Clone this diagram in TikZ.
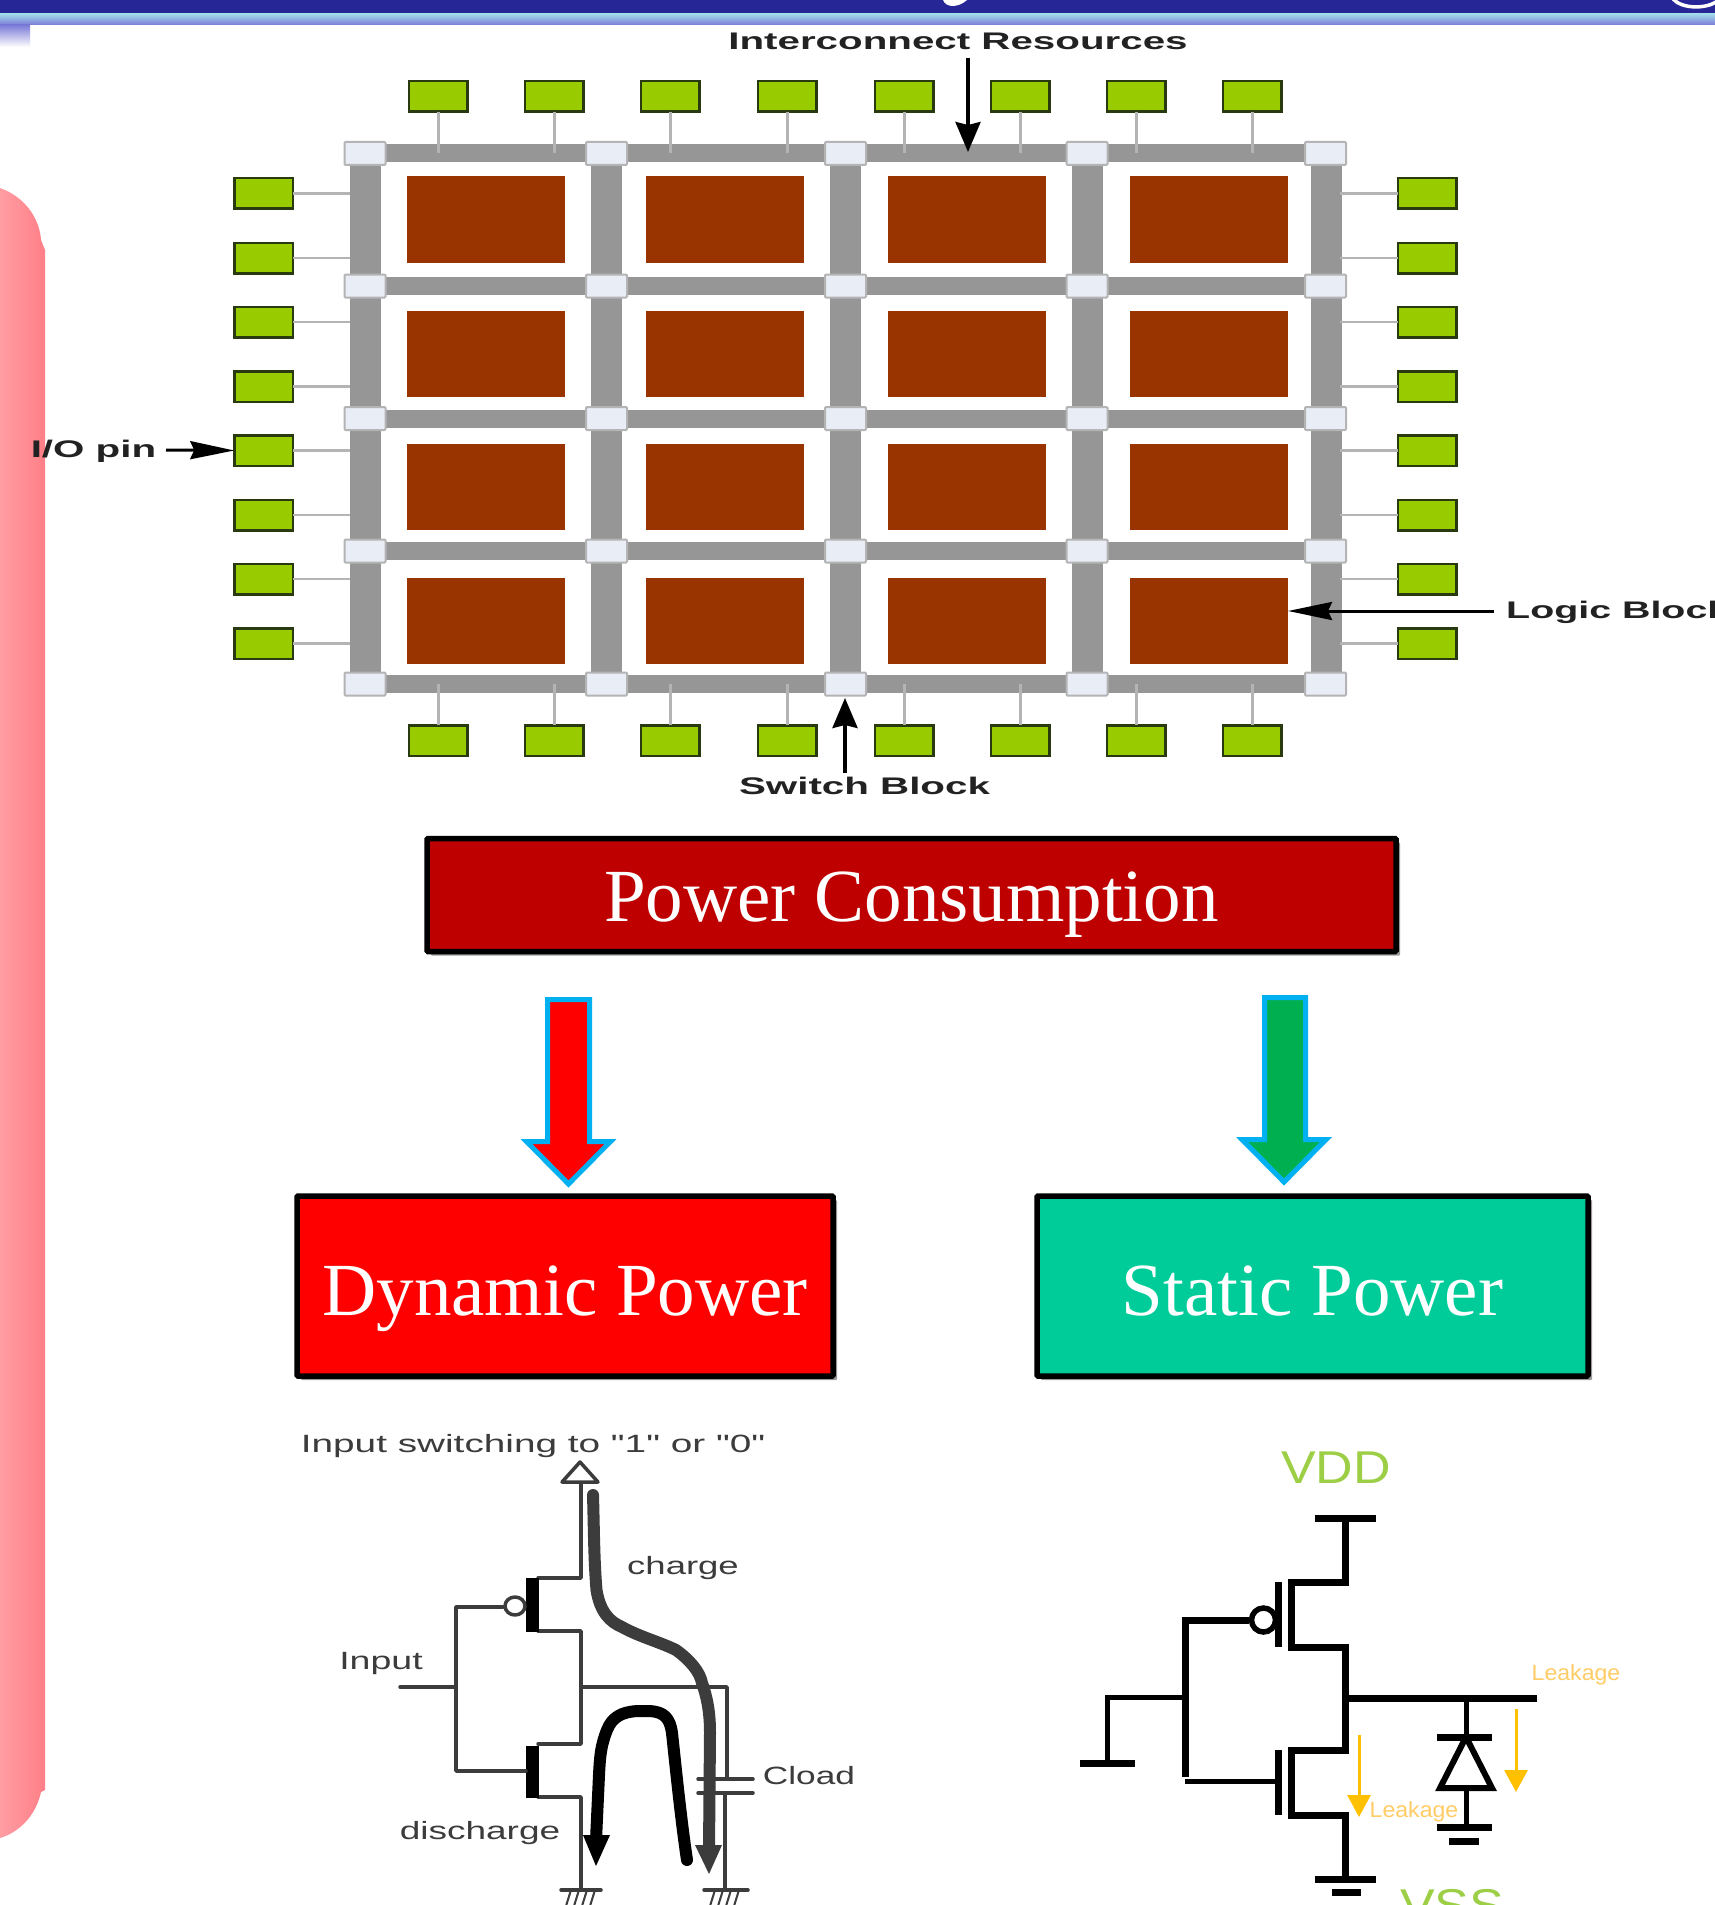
\documentclass[tikz,border=0pt]{standalone}
\usepackage{fontspec}
\usepackage{graphicx}
\setmainfont{Liberation Serif}
\newfontfamily\labfont{Liberation Sans}
\usetikzlibrary{shadows,arrows.meta}
\definecolor{navyband}{HTML}{262696}
\definecolor{bandlight}{HTML}{A0D8E8}
\definecolor{bandperi}{HTML}{7B7BD8}
\definecolor{pinkleft}{HTML}{FF9DA3}
\definecolor{pinkright}{HTML}{FF7F87}
\definecolor{pingreen}{HTML}{99CC00}
\definecolor{pinedge}{HTML}{2A3A10}
\definecolor{blockbrown}{HTML}{993300}
\definecolor{bargray}{HTML}{969696}
\definecolor{swfill}{HTML}{E8EDF6}
\definecolor{swedge}{HTML}{B4B4B4}
\definecolor{arrowblue}{HTML}{00B0F0}
\definecolor{pcred}{HTML}{BE0000}
\definecolor{tealbox}{HTML}{00CC99}
\definecolor{greenarrow}{HTML}{00B050}
\definecolor{txtdark}{HTML}{222222}
\definecolor{circgray}{HTML}{3C3C3C}
\definecolor{leakyellow}{HTML}{FFC000}
\definecolor{leaktext}{HTML}{FFCC66}
\definecolor{vddgreen}{HTML}{9CCF45}
\tikzset{
  pinbox/.style={draw=pinedge,fill=pingreen,line width=2.5pt,minimum width=58.5pt,minimum height=30.5pt,inner sep=0pt,outer sep=0pt},
  logicbox/.style={fill=blockbrown,minimum width=158pt,minimum height=86pt,inner sep=0pt,outer sep=0pt},
  swbox/.style={draw=swedge,fill=swfill,line width=2pt,rounded corners=1pt,minimum width=41pt,minimum height=23pt,inner sep=0pt,outer sep=0pt},
  hbar/.style={draw=bargray,line width=18pt},
  vbar/.style={draw=bargray,line width=31pt},
  stemv/.style={draw=swedge,line width=3pt},
  stemh/.style={draw=swedge,line width=2.5pt},
  ptrh/.style={draw=black,line width=3pt,-{Stealth[length=44pt,width=18pt,inset=4pt]}},
  ptrv/.style={draw=black,line width=3.5pt,-{Stealth[length=30pt,width=25pt,inset=3pt]}},
  toplabel/.style={font=\labfont\bfseries\fontsize{24}{28}\selectfont,text=txtdark,inner sep=0pt},
  powerbox/.style={draw=black,line width=5.5pt,rounded corners=1pt,inner sep=0pt,outer sep=0pt,text=white,
    font=\fontsize{75}{80}\selectfont,drop shadow={shadow xshift=4pt,shadow yshift=-4pt,opacity=.4,fill=black}},
  fatarrow/.style={draw=arrowblue,line width=5pt,miter limit=10},
  cw/.style={draw=circgray,line width=3.5pt,line cap=round,line join=round},
  cwfat/.style={line width=12pt,line cap=round,line join=round},
  ctext/.style={font=\labfont\fontsize{25}{30}\selectfont,text=circgray,inner sep=0pt},
  sw/.style={draw=black,line width=7pt,line join=miter},
  swthin/.style={draw=black,line width=5pt},
  leakarrow/.style={draw=leakyellow,line width=3pt,-{Triangle[length=22pt,width=23pt]}},
  leaklabel/.style={font=\labfont\fontsize{22}{26}\selectfont,text=leaktext,inner sep=0pt},
}
\newcommand{\stretchx}[2]{\scalebox{#1}[1]{#2}}
\begin{document}
\begin{tikzpicture}[x=1pt,y=-1pt]
\useasboundingbox (0,0) rectangle (1715,1905);
\clip (0,0) rectangle (1715,1905);
\fill[white] (0,0) rectangle (1715,1905);
% title band
\fill[navyband] (0,0) rectangle (1715,14);
\shade[top color=bandlight,bottom color=bandperi] (0,14) rectangle (1715,25);
\shade[top color=bandperi,bottom color=white] (0,25) rectangle (30,47);
\fill[white] (943,0) .. controls (946,8) and (958,8) .. (967,0) -- cycle;
\draw[white,line width=3.5pt] (1673,-1) .. controls (1682,9) and (1705,9) .. (1716,2);
% pink side bar
\shade[left color=pinkleft,right color=pinkright] (0,188) .. controls (28,198) and (40,222) .. (41,240) -- (45,250) -- (45,1790) -- (41,1792) .. controls (36,1815) and (20,1832) .. (0,1838) -- cycle;
% interconnect grid
\foreach \c/\x in {1/365,2/606.5,3/845.5,4/1087,5/1326}
  \foreach \r/\y in {1/153.5,2/286,3/418.5,4/551,5/684}
    \coordinate (g\c\r) at (\x,\y);
\foreach \r in {1,2,3,4,5} \path[hbar] (g1\r) -- (g5\r);
\foreach \c in {1,2,3,4,5} \path[vbar] (g\c1) -- (g\c5);
% pins and stems
\foreach \n/\x in {1/438,2/554,3/670,4/787,5/904,6/1020,7/1136,8/1252}{
  \node[pinbox] (pt\n) at (\x,96.5) {};
  \node[pinbox] (pb\n) at (\x,740.5) {};
  \coordinate (tt\n) at (\x,153);
  \coordinate (tb\n) at (\x,684);
  \path[stemv] (pt\n.south) -- (tt\n);
  \path[stemv] (pb\n.north) -- (tb\n);
}
\foreach \n/\y in {1/193.5,2/258,3/322,4/386.5,5/450.5,6/515,7/579,8/643.5}{
  \node[pinbox] (pl\n) at (263.5,\y) {};
  \node[pinbox] (pr\n) at (1427,\y) {};
  \coordinate (tl\n) at (350,\y);
  \coordinate (tr\n) at (1340,\y);
  \path[stemh] (pl\n.east) -- (tl\n);
  \path[stemh] (pr\n.west) -- (tr\n);
}
% switch blocks
\foreach \c/\x in {1/365,2/606.5,3/845.5,4/1087,5/1325.5}
  \foreach \r/\y in {1/153.5,2/286,3/418.5,4/551,5/684}
    \node[swbox] (s\c\r) at (\x,\y) {};
% logic blocks
\foreach \c/\x in {1/486,2/725,3/966.5,4/1209}
  \foreach \r/\y in {1/219.5,2/354,3/486.5,4/621}
    \node[logicbox] (l\c\r) at (\x,\y) {};
% labels on the array
\node[toplabel] (lbinter) at (958,41) {\stretchx{1.68}{Interconnect Resources}};
\node[toplabel] (lbio) at (93.5,451) {\stretchx{1.68}{I/O pin}};
\node[toplabel,anchor=west] (lblogic) at (1506,612) {\stretchx{1.64}{Logic Block}};
\node[toplabel] (lbswitch) at (864.5,786) {\stretchx{1.68}{Switch Block}};
\coordinate (intertop) at (968,58);
\coordinate (interend) at (968,152);
\coordinate (switchtop) at (845,773);
\coordinate (switchend) at (845,698);
\coordinate (logicstart) at (1494,611);
\coordinate (logicend) at (1288,611);
\coordinate (iostart) at (166,450);
\path[ptrv] (intertop) -- (interend);
\path[ptrv] (switchtop) -- (switchend);
\path[ptrh] (logicstart) -- (logicend);
\path[ptrh] (iostart) -- (pl5.west);
% power boxes
\node[powerbox,fill=pcred,minimum width=969pt,minimum height=113pt,text height=60pt,text depth=8pt] (pc) at (911.5,895) {Power Consumption};
\node[powerbox,fill=red,minimum width=536pt,minimum height=180pt,text height=66pt,text depth=8pt] (dyn) at (565,1286) {Dynamic Power};
\node[powerbox,fill=tealbox,minimum width=551pt,minimum height=180pt,text height=66pt,text depth=8pt] (sta) at (1312.5,1286) {Static Power};
% block arrows
\filldraw[fatarrow,fill=red] (547.5,999.5) -- (589.5,999.5) -- (589.5,1141.5) -- (610.5,1141.5) -- (568.5,1184) -- (526.5,1141.5) -- (547.5,1141.5) -- cycle;
\filldraw[fatarrow,fill=greenarrow] (1264.5,997.5) -- (1305.5,997.5) -- (1305.5,1139.5) -- (1326,1139.5) -- (1284,1182) -- (1242,1139.5) -- (1264.5,1139.5) -- cycle;
% dynamic power circuit
\node[ctext] (swlabel) at (533,1446) {\stretchx{1.55}{Input switching to "1" or "0"}};
\node[ctext] (chglabel) at (683,1568) {\stretchx{1.46}{charge}};
\node[ctext] (inlabel) at (381,1663) {\stretchx{1.5}{Input}};
\node[ctext] (cllabel) at (809,1776) {\stretchx{1.41}{Cload}};
\node[ctext] (dislabel) at (480,1833) {\stretchx{1.48}{discharge}};
\path[cw] (581,1482) -- (581,1578) -- (538,1578);
\filldraw[cw,fill=white] (580,1462) -- (598,1482) -- (562,1482) -- cycle;
\path[cw] (538,1631) -- (581,1631) -- (581,1744) -- (538,1744);
\path[cw] (538,1797) -- (581,1797) -- (581,1890);
\fill[black] (526,1578) rectangle (539,1632);
\fill[black] (526,1746) rectangle (539,1798);
\path[cw] (503,1607) -- (456,1607) -- (456,1771) -- (526,1771);
\path[cw] (400,1687) -- (456,1687);
\filldraw[cw,fill=white] (515,1606) circle[x radius=10,y radius=9];
\path[cw] (581,1687) -- (727,1687) -- (727,1777);
\path[cw] (698,1779) -- (753,1779);
\path[cw] (698,1793) -- (753,1793);
\path[cw] (725,1793) -- (725,1890);
\path[cw] (561,1890) -- (601,1890);
\path[cw] (704,1890) -- (748,1890);
\foreach \xx in {566,574,582,590} \draw[circgray,line width=2pt] (\xx+5,1890) -- (\xx,1906);
\foreach \xx in {710,718,726,734} \draw[circgray,line width=2pt] (\xx+5,1890) -- (\xx,1906);
\path[draw=circgray,cwfat] (593,1495) .. controls (594,1530) and (594,1560) .. (596.5,1590) .. controls (600,1612) and (610,1622) .. (622,1627) .. controls (640,1637) and (660,1642) .. (676,1650) .. controls (690,1660) and (700,1672) .. (702,1683) .. controls (708,1700) and (710,1715) .. (710,1733) -- (709,1850);
\fill[circgray] (695,1845) -- (722,1845) -- (709,1874) -- cycle;
\path[draw=black,cwfat] (687,1860) .. controls (681,1820) and (676,1770) .. (672,1733) .. controls (670,1718) and (664,1712) .. (650,1711) -- (637,1711) .. controls (622,1712) and (612,1717) .. (607,1730) .. controls (601,1745) and (600,1755) .. (599,1775) -- (596,1840);
\fill[black] (583,1835) -- (610,1835) -- (596,1866) -- cycle;
% static power circuit
\node[font=\labfont\fontsize{46}{50}\selectfont,text=vddgreen,inner sep=0pt] (vdd) at (1336,1468) {\stretchx{1.13}{VDD}};
\node[font=\labfont\fontsize{46}{50}\selectfont,text=vddgreen,inner sep=0pt,anchor=north] (vss) at (1452,1889) {\stretchx{1.13}{VSS}};
\path[sw] (1315,1518) -- (1376,1518);
\path[sw] (1345.5,1518) -- (1345.5,1582) -- (1291,1582) -- (1291,1647) -- (1345.5,1647) -- (1345.5,1750) -- (1291,1750) -- (1291,1815) -- (1345.5,1815) -- (1345.5,1879);
\path[sw] (1315,1879) -- (1376,1879);
\path[sw] (1332,1892) -- (1361,1892);
\path[sw] (1278,1582) -- (1278,1647);
\path[sw] (1278,1750) -- (1278,1815);
\draw[black,line width=5.5pt] (1263.5,1620) circle[radius=12];
\path[sw] (1249,1620) -- (1185,1620) -- (1185,1777);
\path[swthin] (1185,1781) -- (1276,1781);
\path[swthin] (1185,1697) -- (1107,1697) -- (1107,1763);
\path[sw] (1080,1763) -- (1135,1763);
\path[sw] (1345.5,1698) -- (1537,1698);
\path[swthin] (1466,1698) -- (1466,1737);
\path[sw] (1436.5,1737) -- (1492,1737);
\draw[black,line width=6pt,line join=miter] (1466,1737) -- (1492,1788) -- (1440,1788) -- cycle;
\path[swthin] (1466,1788) -- (1466,1827);
\path[sw] (1436.5,1827) -- (1492,1827);
\path[sw] (1449,1841) -- (1479,1841);
\coordinate (la1s) at (1359,1735);
\coordinate (la1e) at (1359,1817);
\coordinate (la2s) at (1516,1709);
\coordinate (la2e) at (1516,1792);
\path[leakarrow] (la1s) -- (la1e);
\path[leakarrow] (la2s) -- (la2e);
\node[leaklabel] (lk1) at (1576,1675) {\stretchx{1.05}{Leakage}};
\node[leaklabel] (lk2) at (1414,1812) {\stretchx{1.05}{Leakage}};
\end{tikzpicture}
\end{document}
